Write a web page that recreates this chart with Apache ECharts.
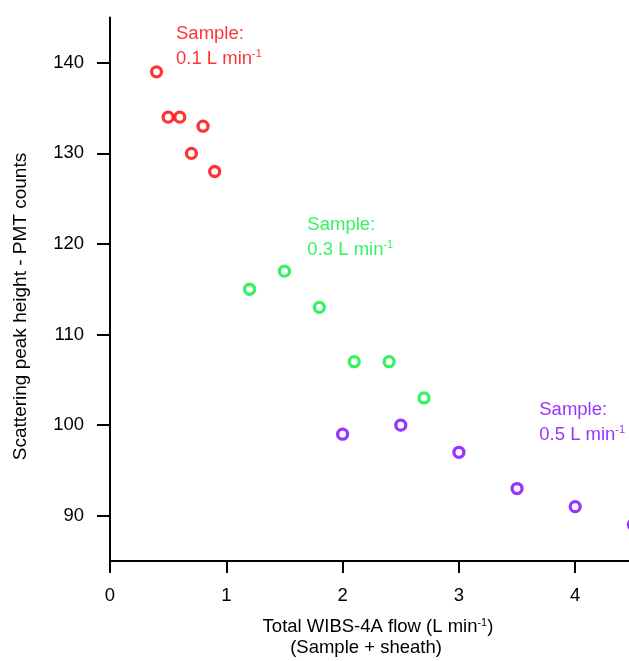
<!DOCTYPE html>
<html>
<head>
<meta charset="utf-8">
<script src="https://cdn.jsdelivr.net/npm/echarts@6/dist/echarts.min.js"></script>
<style>
html,body{margin:0;padding:0;background:#fff;}
#chart{width:629px;height:661px;}
</style>
</head>
<body>
<div id="chart"></div>
<script>
// ---- data ----
const redFlow = [0.4, 0.5, 0.6, 0.8, 0.7, 0.9];
const redCounts = [139, 134, 134, 133, 130, 128];
const greenFlow = [1.2, 1.5, 1.8, 2.1, 2.4, 2.7];
const greenCounts = [115, 117, 113, 107, 107, 103];
const purpleFlow = [2.0, 2.5, 3.0, 3.5, 4.0, 4.5];
const purpleCounts = [99, 100, 97, 93, 91, 89];
const xTicks = [0, 1, 2, 3, 4];
const yTicks = [90, 100, 110, 120, 130, 140];
const sampleLabels = ['0.1', '0.3', '0.5'];

const FONT = 'Liberation Sans, Arial, Helvetica, sans-serif';
const FS = 18.5;
const RED = '#ff0000', GREEN = '#00f03c', PURPLE = '#7f00ff';

function pairs(xs, ys) { return xs.map((x, i) => [x, ys[i]]); }

function pointSeries(name, xs, ys, color) {
  return {
    name: name,
    type: 'scatter',
    data: pairs(xs, ys),
    symbol: 'circle',
    symbolSize: 10,
    itemStyle: { color: '#fff', borderColor: color, borderWidth: 3.3 },
    silent: true,
    z: 3
  };
}

function noteSeries(anchor, flowText, color) {
  return {
    type: 'scatter',
    data: [anchor],
    symbolSize: 0.01,
    itemStyle: { color: 'rgba(0,0,0,0)' },
    silent: true,
    label: {
      show: true,
      position: [0, 0],
      align: 'left',
      verticalAlign: 'top',
      formatter: 'Sample:\n' + flowText + ' L min{sup|-1}',
      color: color,
      fontFamily: FONT,
      fontSize: FS,
      lineHeight: 25,
      rich: {
        sup: { fontSize: 11, color: color, fontFamily: FONT, verticalAlign: 'top', lineHeight: 25, padding: [2, 0, 0, 0] }
      }
    },
    z: 4
  };
}

const chart = echarts.init(document.getElementById('chart'), null, { renderer: 'canvas' });

const axisLineStyle = { color: '#000', width: 2 };

chart.setOption({
  backgroundColor: '#fff',
  animation: false,
  grid: { left: 110, top: 17.5, width: 535, height: 543.5, containLabel: false, outerBoundsMode: 'none' },
  xAxis: {
    type: 'value',
    min: 0,
    max: 4.6,
    splitLine: { show: false },
    axisLine: { show: true, lineStyle: axisLineStyle },
    axisTick: { show: true, length: 12, lineStyle: axisLineStyle, customValues: xTicks },
    axisLabel: { customValues: xTicks, margin: 25, color: '#000', fontFamily: FONT, fontSize: FS }
  },
  yAxis: {
    type: 'value',
    min: 85,
    max: 145,
    splitLine: { show: false },
    axisLine: { show: true, lineStyle: axisLineStyle },
    axisTick: { show: true, length: 13, lineStyle: axisLineStyle, customValues: yTicks },
    axisLabel: { customValues: yTicks, margin: 26, color: '#000', fontFamily: FONT, fontSize: FS }
  },
  graphic: [
    {
      type: 'text', x: 21, y: 306.5, rotation: Math.PI / 2,
      style: { text: 'Scattering peak height - PMT counts', fill: '#000', font: '19px ' + FONT, textAlign: 'center', textVerticalAlign: 'middle' }
    },
    {
      type: 'text', x: 378, y: 616.2,
      style: {
        text: 'Total WIBS-4A flow (L min{sup|-1})',
        fill: '#000', fontFamily: FONT, fontSize: FS, lineHeight: 21,
        textAlign: 'center', textVerticalAlign: 'top',
        rich: { sup: { fontSize: 11, fill: '#000', fontFamily: FONT, verticalAlign: 'top', lineHeight: 21, padding: [1, 0, 0, 0] } }
      }
    },
    {
      type: 'text', x: 366, y: 637.2,
      style: { text: '(Sample + sheath)', fill: '#000', fontFamily: FONT, fontSize: FS, lineHeight: 21, textAlign: 'center', textVerticalAlign: 'top' }
    }
  ],
  series: [
    pointSeries('0.1', redFlow, redCounts, RED),
    pointSeries('0.3', greenFlow, greenCounts, GREEN),
    pointSeries('0.5', purpleFlow, purpleCounts, PURPLE),
    noteSeries([0.5675, 144.61], sampleLabels[0], RED),
    noteSeries([1.697, 123.46], sampleLabels[1], GREEN),
    noteSeries([3.691, 103.08], sampleLabels[2], PURPLE)
  ]
});
</script>
</body>
</html>
